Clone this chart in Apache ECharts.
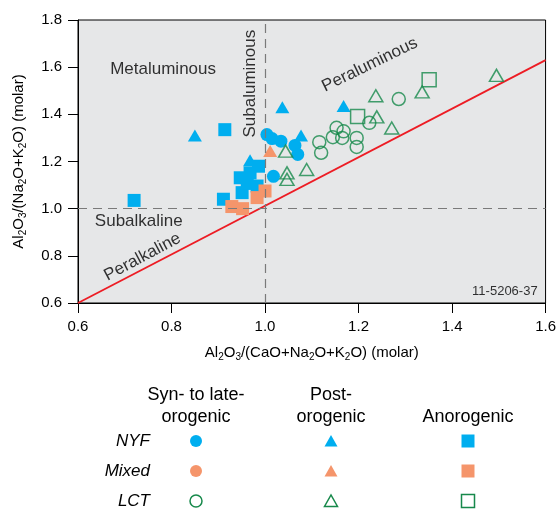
<!DOCTYPE html>
<html>
<head>
<meta charset="utf-8">
<script src="https://cdn.jsdelivr.net/npm/echarts@6/dist/echarts.min.js"></script>
<style>
html,body{margin:0;padding:0;background:#fff}
#chart_main{width:559px;height:510px}
</style>
</head>
<body>
<div id="chart_main"></div>
<script>
// A/CNK vs A/NK, molar
var nyfSyn = [[1.004,1.314],[1.015,1.297],[1.034,1.286],[1.064,1.268],[1.07,1.23],[1.018,1.137]];
var nyfPost = [[0.85,1.31],[1.037,1.43],[1.077,1.31],[0.968,1.205],[1.168,1.435]];
var nyfAno = [[0.72,1.035],[0.914,1.335],[0.911,1.04],[0.951,1.068],[0.947,1.131],[0.968,1.152],[0.986,1.18],[0.983,1.096],[0.962,1.107]];
var mixedSyn = [];
var mixedPost = [[1.011,1.244]];
var mixedAno = [[0.929,1.009],[0.952,1.0],[0.983,1.047],[1.0,1.075]];
var lctSyn = [[1.286,1.465],[1.223,1.364],[1.153,1.343],[1.168,1.328],[1.145,1.303],[1.165,1.3],[1.196,1.3],[1.116,1.282],[1.196,1.262],[1.12,1.237]];
var lctPost = [[1.044,1.244],[1.047,1.152],[1.047,1.124],[1.089,1.166],[1.237,1.479],[1.239,1.389],[1.271,1.342],[1.336,1.495],[1.495,1.565]];
var lctAno = [[1.351,1.547],[1.198,1.391]];
var peralkLine = [[0.6,0.6],[1.6,1.63]];

var regionNames = ['Metaluminous','Subaluminous','Peraluminous','Subalkaline','Peralkaline','11-5206-37'];
var regionPos = [[0.782,1.593],[0.968,1.53],[1.224,1.61],[0.73,0.947],[0.738,0.795],[1.583,0.651]];
var regionAngle = [0,90,26,0,28,0];

var colHeads = [['Syn- to late-','orogenic'],['Post-','orogenic'],['','Anorogenic']];
var rowNames = ['NYF','Mixed','LCT'];

var font = '"Liberation Sans", Arial, Helvetica, sans-serif';
var blue = '#00aeef', salmon = '#f5956b', green = '#17894b', red = '#ed1c24';

var myChart = echarts.init(document.getElementById('chart_main'));

function pts(type, data, color, hollow, size){
	return {
		type:'scatter', data:data, symbol:type, symbolSize:size, z:3,
		itemStyle: hollow ? {color:'rgba(0,0,0,0)', borderColor:color, borderWidth:1.5} : {color:color, opacity:1},
		emphasis:{disabled:true}
	};
}

var notes = [];
for (var i = 0; i < regionNames.length; i++) {
	var small = regionNames[i] == '11-5206-37';
	notes.push({value:regionPos[i], name:regionNames[i],
		label:{rotate:regionAngle[i], fontSize: small ? 13 : 17, align: small ? 'right' : 'center'}});
}

var rich = {
	t:{fontSize:15, fontFamily:font, color:'#000', lineHeight:18},
	s:{fontSize:10, fontFamily:font, color:'#000', verticalAlign:'bottom', lineHeight:10}
};

// legend block
var graphic = [];
var colX = [196, 331, 468];
var rowY = [441, 471, 501];
var rowColor = [blue, salmon, green];
for (var c = 0; c < 3; c++) {
	for (var l = 0; l < 2; l++) {
		graphic.push({type:'text', x:colX[c], y:395 + l*22,
			style:{text:colHeads[c][l], font:'18px ' + font, fill:'#000', align:'center', verticalAlign:'middle'}});
	}
}
for (var r = 0; r < 3; r++) {
	graphic.push({type:'text', x:150, y:rowY[r],
		style:{text:rowNames[r], font:'italic 17px ' + font, fill:'#000', align:'right', verticalAlign:'middle'}});
	var hollow = r == 2;
	var st = hollow ? {fill:'none', stroke:rowColor[r], lineWidth:1.5} : {fill:rowColor[r]};
	graphic.push({type:'circle', shape:{cx:colX[0], cy:rowY[r], r:6}, style:st});
	graphic.push({type:'polygon', shape:{points:[[colX[1]-6.5,rowY[r]+5.5],[colX[1]+6.5,rowY[r]+5.5],[colX[1],rowY[r]-6]]}, style:st});
	graphic.push({type:'rect', shape:{x:colX[2]-6.5, y:rowY[r]-6.5, width:13, height:13}, style:st});
}

var option = {
	animation:false,
	textStyle:{fontFamily:font},
	grid:{left:78, right:13, top:20, bottom:207, show:true, backgroundColor:'#e6e7e8', borderColor:'#000', borderWidth:1},
	xAxis:{
		type:'value', min:0.6, max:1.6, interval:0.2,
		name:'{t|Al}{s|2}{t|O}{s|3}{t|/(CaO+Na}{s|2}{t|O+K}{s|2}{t|O) (molar)}',
		nameLocation:'middle', nameGap:41, nameTextStyle:{rich:rich, fontSize:15, color:'#000'},
		axisLine:{lineStyle:{color:'#000', width:1}},
		axisTick:{length:10, lineStyle:{color:'#000'}},
		axisLabel:{color:'#000', fontSize:15, margin:16, showMinLabel:true, showMaxLabel:true, formatter:function(v){return v.toFixed(1);}},
		splitLine:{show:false}
	},
	yAxis:{
		type:'value', min:0.6, max:1.8, interval:0.2,
		name:'{t|Al}{s|2}{t|O}{s|3}{t|/(Na}{s|2}{t|O+K}{s|2}{t|O) (molar)}',
		nameLocation:'middle', nameGap:50, nameTextStyle:{rich:rich, fontSize:15, color:'#000'},
		axisLine:{show:true, lineStyle:{color:'#000', width:1}},
		axisTick:{show:true, length:10, lineStyle:{color:'#000'}},
		axisLabel:{color:'#000', fontSize:15, margin:16, showMinLabel:true, showMaxLabel:true, formatter:function(v){return v.toFixed(1);}},
		splitLine:{show:false}
	},
	graphic:graphic,
	series:[
		{
			type:'line', data:peralkLine, symbol:'none', z:1, silent:true,
			lineStyle:{color:red, width:1.8},
			markLine:{
				silent:true, symbol:'none', label:{show:false},
				lineStyle:{color:'#7a7a7a', type:[9,6], width:1.2},
				data:[{xAxis:1.0},{yAxis:1.0}]
			}
		},
		pts('circle', nyfSyn, blue, false, 13),
		pts('triangle', nyfPost, blue, false, [14,12]),
		pts('rect', nyfAno, blue, false, 13),
		pts('circle', mixedSyn, salmon, false, 13),
		pts('triangle', mixedPost, salmon, false, [14,12]),
		pts('rect', mixedAno, salmon, false, 13),
		pts('circle', lctSyn, green, true, 13),
		pts('triangle', lctPost, green, true, [14,12]),
		pts('rect', lctAno, green, true, 14),
		{
			type:'scatter', data:notes, symbolSize:1, z:4, silent:true,
			itemStyle:{color:'rgba(0,0,0,0)'},
			label:{show:true, position:'inside', formatter:'{b}', color:'#000', fontFamily:font}
		}
	]
};
myChart.setOption(option);
</script>
</body>
</html>
